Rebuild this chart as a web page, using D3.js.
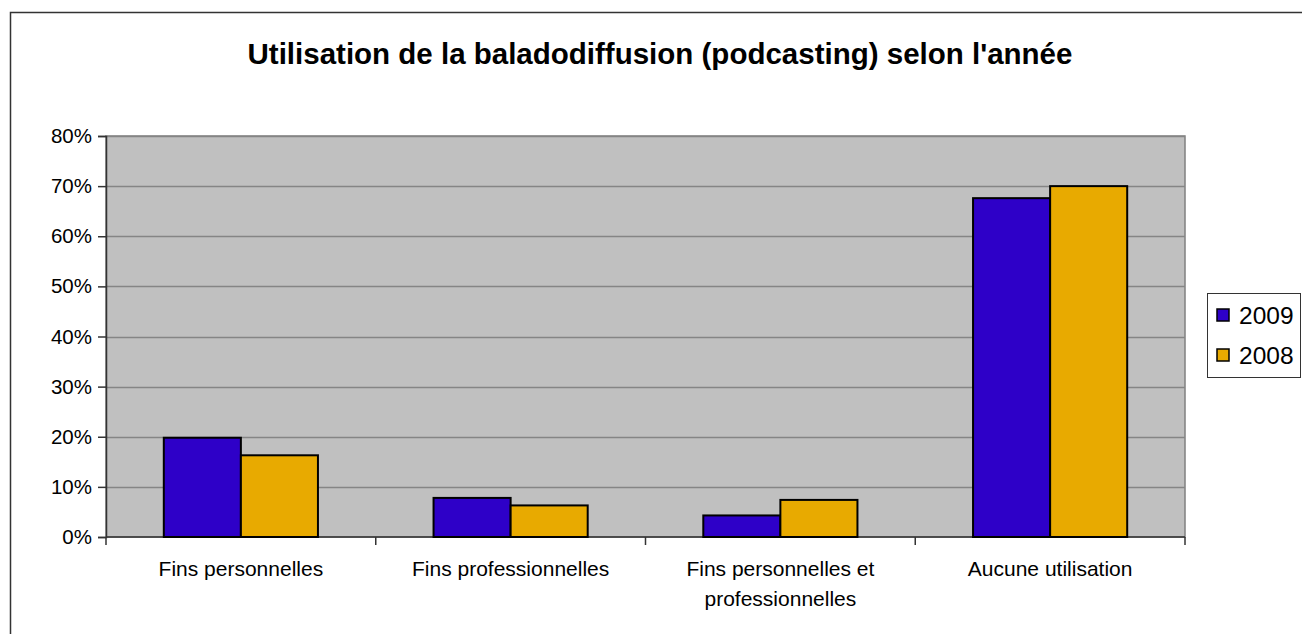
<!DOCTYPE html>
<html>
<head>
<meta charset="utf-8">
<script src="https://cdn.jsdelivr.net/npm/d3@7"></script>
<style>
  body { margin: 0; background: #fff; }
  svg { display: block; font-family: "Liberation Sans", Arial, sans-serif; }
</style>
</head>
<body>
<svg id="chart" width="1302" height="634"></svg>
<script>
const title = "Utilisation de la baladodiffusion (podcasting) selon l'année";
const categories = [
  ["Fins personnelles"],
  ["Fins professionnelles"],
  ["Fins personnelles et", "professionnelles"],
  ["Aucune utilisation"],
];
const seriesNames = ["2009", "2008"];
const values2009 = [0.198, 0.078, 0.043, 0.676];
const values2008 = [0.163, 0.063, 0.074, 0.70];
const yTicks = [0, 0.1, 0.2, 0.3, 0.4, 0.5, 0.6, 0.7, 0.8];
const colors = ["#2e00c8", "#e8aa00"];

const svg = d3.select("#chart");
const plot = { left: 106, right: 1185, top: 136, bottom: 537 };

const catKeys = categories.map((c) => c.join(" "));
const x0 = d3.scaleBand().domain(catKeys).range([plot.left, plot.right]);
const x1 = d3
  .scaleBand()
  .domain(seriesNames)
  .range([0, x0.bandwidth()])
  .paddingOuter(0.75);
const y = d3.scaleLinear().domain([0, 0.8]).range([plot.bottom, plot.top]);

// outer frame
svg.append("rect")
  .attr("x", 10.5).attr("y", 12.5)
  .attr("width", 1320).attr("height", 640)
  .attr("fill", "none").attr("stroke", "#333").attr("stroke-width", 1.5);

svg.append("text")
  .attr("x", 660).attr("y", 64)
  .attr("text-anchor", "middle")
  .attr("font-size", 29.5).attr("font-weight", "bold")
  .text(title);

// plot area
svg.append("rect")
  .attr("x", plot.left).attr("y", plot.top)
  .attr("width", plot.right - plot.left).attr("height", plot.bottom - plot.top)
  .attr("fill", "#c0c0c0").attr("stroke", "#808080").attr("stroke-width", 1.5);

svg.append("g")
  .selectAll("line")
  .data(yTicks.slice(1))
  .join("line")
  .attr("x1", plot.left).attr("x2", plot.right)
  .attr("y1", (d) => Math.round(y(d)) + 0.5).attr("y2", (d) => Math.round(y(d)) + 0.5)
  .attr("stroke", "#858585").attr("stroke-width", 1.5);

// y axis
const yAxis = d3.axisLeft(y).tickValues(yTicks).tickFormat(d3.format(".0%")).tickSize(8).tickPadding(6);
const yg = svg.append("g").attr("transform", `translate(${plot.left},0)`).call(yAxis);
yg.select(".domain").attr("stroke", "#333").attr("stroke-width", 1.5);
yg.selectAll(".tick line").attr("stroke", "#333").attr("stroke-width", 1.5);
yg.selectAll(".tick text").attr("font-size", 20.5).attr("fill", "#000")
  .attr("font-family", "Liberation Sans, Arial, sans-serif");

// x axis: ticks between categories
const xg = svg.append("g").attr("transform", `translate(0,${plot.bottom})`);
xg.append("line")
  .attr("x1", plot.left).attr("x2", plot.right)
  .attr("stroke", "#333").attr("stroke-width", 1.5);
xg.selectAll("line.tk")
  .data(catKeys.map((k) => x0(k)).concat([plot.right]))
  .join("line").classed("tk", true)
  .attr("x1", (d) => d).attr("x2", (d) => d)
  .attr("y1", 0).attr("y2", 8)
  .attr("stroke", "#333").attr("stroke-width", 1.5);
xg.selectAll("text.cat")
  .data(categories)
  .join("text").classed("cat", true)
  .attr("text-anchor", "middle")
  .attr("font-size", 21)
  .attr("transform", (d) => `translate(${x0(d.join(" ")) + x0.bandwidth() / 2},39)`)
  .selectAll("tspan")
  .data((d) => d)
  .join("tspan")
  .attr("x", 0)
  .attr("y", (d, i) => i * 30)
  .text((d) => d);

// bars
const rows = catKeys.map((k, i) => ({ key: k, vals: [values2009[i], values2008[i]] }));
svg.append("g")
  .selectAll("g")
  .data(rows)
  .join("g")
  .attr("transform", (d) => `translate(${x0(d.key)},0)`)
  .selectAll("rect")
  .data((d) => d.vals.map((v, i) => ({ s: seriesNames[i], v, c: colors[i] })))
  .join("rect")
  .attr("x", (d) => x1(d.s))
  .attr("y", (d) => y(d.v))
  .attr("width", x1.bandwidth())
  .attr("height", (d) => y(0) - y(d.v))
  .attr("fill", (d) => d.c)
  .attr("stroke", "#000").attr("stroke-width", 2);

// legend
const lg = svg.append("g");
lg.append("rect")
  .attr("x", 1207.5).attr("y", 293.5).attr("width", 93).attr("height", 84)
  .attr("fill", "#fff").attr("stroke", "#333").attr("stroke-width", 1);
const li = lg.selectAll("g.item")
  .data(seriesNames)
  .join("g").classed("item", true)
  .attr("transform", (d, i) => `translate(1217,${309 + i * 40})`);
li.append("rect")
  .attr("width", 12).attr("height", 12)
  .attr("fill", (d, i) => colors[i])
  .attr("stroke", "#000").attr("stroke-width", 1.5);
li.append("text")
  .attr("x", 22).attr("y", 15)
  .attr("font-size", 24.5)
  .text((d) => d);
</script>
</body>
</html>
